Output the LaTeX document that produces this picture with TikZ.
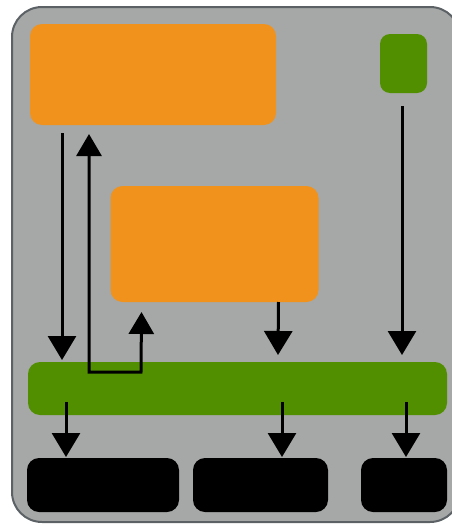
\documentclass[tikz,border=0pt]{standalone}
\usepackage{tikz}
\usetikzlibrary{arrows.meta}

\definecolor{panelgray}{HTML}{A5A8A6}
\definecolor{panelrim}{HTML}{5C6165}
\definecolor{boxorange}{HTML}{F0921C}
\definecolor{boxgreen}{HTML}{528F00}

\begin{document}
\begin{tikzpicture}[x=1pt, y=-1pt,
  block/.style={rounded corners=12pt, inner sep=0pt, outer sep=0pt},
  orangebox/.style={block, fill=boxorange},
  greenbox/.style={block, fill=boxgreen},
  blackbox/.style={block, fill=black, minimum height=54pt},
  flow/.style={-{Triangle[width=28pt,length=24pt]}, line width=3pt},
  twoway/.style={{Triangle[width=25pt,length=22pt]}-{Triangle[width=25pt,length=22pt]}, line width=3pt}
]
  \useasboundingbox (0,0) rectangle (452,525);
  \clip (0,0) rectangle (452,525);

  % panel behind everything
  \draw[fill=panelgray, draw=panelrim, line width=2pt, rounded corners=30pt] (12,7) rectangle (460,522);

  % upper blocks
  \node[orangebox, minimum width=246pt, minimum height=101pt] (top) at (153,74.5) {};
  \node[greenbox, rounded corners=10pt, minimum width=47pt, minimum height=59pt] (small) at (403.5,63.5) {};
  \node[orangebox, minimum width=208pt, minimum height=116pt] (mid) at (214.5,244) {};

  % shared bar and the three sinks
  \node[greenbox, minimum width=419pt, minimum height=53pt] (bus) at (237.5,388.5) {};
  \node[blackbox, minimum width=152pt] (b1) at (103,485) {};
  \node[blackbox, minimum width=135pt] (b2) at (260.5,485) {};
  \node[blackbox, minimum width=86pt] (b3) at (404,485) {};

  % into the bar
  \draw[flow] ([xshift=32pt, yshift=-8pt]top.south west) -- ([xshift=34pt, yshift=2pt]bus.north west);
  \draw[twoway] ([xshift=59pt, yshift=-9pt]top.south west) -- ([xshift=61pt, yshift=-10pt]bus.north west)
    -- ([xshift=113pt, yshift=-10pt]bus.north west) -- ([xshift=31pt, yshift=-10pt]mid.south west);
  \draw[flow] ([xshift=168pt]mid.south west) -- ([xshift=250pt, yshift=7pt]bus.north west);
  \draw[flow] ([xshift=-1.5pt, yshift=-13pt]small.south) -- ([xshift=374pt, yshift=7pt]bus.north west);

  % out of the bar
  \draw[flow] ([xshift=38pt, yshift=13pt]bus.south west) -- ([xshift=39pt, yshift=1pt]b1.north west);
  \draw[flow] ([xshift=254pt, yshift=13pt]bus.south west) -- ([xshift=89pt, yshift=1pt]b2.north west);
  \draw[flow] ([xshift=378pt, yshift=13pt]bus.south west) -- ([xshift=45pt, yshift=1pt]b3.north west);
\end{tikzpicture}
\end{document}
